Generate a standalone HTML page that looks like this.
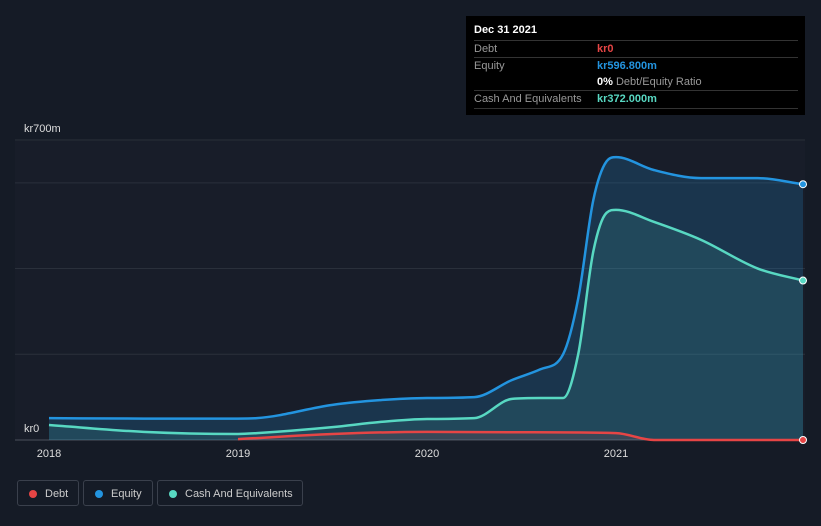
<!DOCTYPE html>
<html><head><meta charset="utf-8"><style>
body{margin:0;width:821px;height:526px;background:#151b26;font-family:"Liberation Sans",sans-serif;overflow:hidden;position:relative}
.tt{position:absolute;left:466px;top:16px;width:339px;height:99px;background:#000;color:#fff;font-size:11px}
.row{position:absolute;left:8px;width:324px;border-top:1px solid #333;height:17px;line-height:17px}
.row span{position:absolute;left:123px;font-weight:bold}
.lab{color:#999}
.leg{position:absolute;top:480px;height:26px;border:1px solid #3a404c;border-radius:3px;color:#ccc;font-size:11px;line-height:26px;box-sizing:border-box;padding-left:27px}
.leg i{position:absolute;left:11px;top:9px;width:8px;height:8px;border-radius:50%}
</style></head><body>
<div class="tt">
<div style="position:absolute;left:8px;top:8px;font-weight:bold">Dec 31 2021</div>
<div class="row" style="top:24px"><b class="lab" style="font-weight:normal">Debt</b><span style="color:#e64545">kr0</span></div>
<div class="row" style="top:41px"><b class="lab" style="font-weight:normal">Equity</b><span style="color:#2394df">kr596.800m</span></div>
<div class="row" style="top:58px;border-top:none"><span>0% <b style="color:#999;font-weight:normal">Debt/Equity Ratio</b></span></div>
<div class="row" style="top:74px;border-bottom:1px solid #333"><b class="lab" style="font-weight:normal">Cash And Equivalents</b><span style="color:#58d8c2">kr372.000m</span></div>
</div>
<svg id="c" width="821" height="526" style="position:absolute;left:0;top:0"></svg>
<div class="leg" style="left:17px;width:62px"><i style="background:#e64545"></i>Debt</div>
<div class="leg" style="left:83px;width:70px"><i style="background:#2394df"></i>Equity</div>
<div class="leg" style="left:157px;width:146px"><i style="background:#58d8c2"></i>Cash And Equivalents</div>
<script>
const years=[2018,2018.5,2019,2019.1,2019.5,2019.75,2020,2020.25,2020.45,2020.6,2020.72,2020.8,2020.88,2020.95,2021,2021.2,2021.45,2021.75,2022];
const equity=[51,50,50,51,82,93,98,100,140,165,200,330,560,650,660,630,611,611,596.8];
const cash=[35,19,14,16,30,42,49,51,96,98,98,200,440,530,537,509,467,400,372];
const debtYears=[2019,2019.5,2020,2020.5,2021,2021.2,2021.5,2022];
const debt=[2,14,19,18,16,0,0,0];
const yTicks=[0,700];
const xTicks=[2018,2019,2020,2021];
const NS="http://www.w3.org/2000/svg",svg=document.getElementById('c');
const x=t=>49+(t-2018)*189, X=t=>Math.min(x(t),803);
const y=v=>440-v*0.4286;
function el(tag,a,parent){const e=document.createElementNS(NS,tag);for(const k in a)e.setAttribute(k,a[k]);(parent||svg).appendChild(e);return e;}
const bg=el('rect',{x:15,y:141,width:790,height:299,fill:'#181d29'});


[0,200,400,600,700].forEach(v=>{const g=el('line',{x1:15,x2:805,y1:y(v),y2:y(v),stroke:v===0?'#4a505c':'#2a303b','stroke-width':1});

});
function path(xs,vs){const p=xs.map((t,i)=>[X(t),y(vs[i])]);const n=p.length;
const s=[];for(let i=0;i<n-1;i++)s.push((p[i+1][1]-p[i][1])/(p[i+1][0]-p[i][0]));
const m=[s[0]];for(let i=1;i<n-1;i++){m.push(s[i-1]*s[i]<=0?0:(s[i-1]+s[i])/2);}m.push(s[n-2]);
for(let i=0;i<n-1;i++){if(s[i]===0){m[i]=0;m[i+1]=0;continue;}const a=m[i]/s[i],b=m[i+1]/s[i],h=a*a+b*b;if(h>9){const t=3/Math.sqrt(h);m[i]=t*a*s[i];m[i+1]=t*b*s[i];}}
let d='M'+p[0];for(let i=0;i<n-1;i++){const dx=(p[i+1][0]-p[i][0])/3;d+='C'+[p[i][0]+dx,p[i][1]+m[i]*dx]+' '+[p[i+1][0]-dx,p[i+1][1]-m[i+1]*dx]+' '+p[i+1];}
return {d,p};}
function series(xs,vs,col,fill,name){const {d,p}=path(xs,vs);
const a=el('path',{d:d+'L'+p[p.length-1][0]+',440L'+p[0][0]+',440Z',fill:fill});


const l=el('path',{d,fill:'none',stroke:col,'stroke-width':2.5});


const c=el('circle',{cx:p[p.length-1][0],cy:p[p.length-1][1],r:3.5,fill:col,stroke:'#fff','stroke-width':1});

}
series(years,equity,'#2394df','rgba(35,148,223,0.2)','equity');
series(years,cash,'#58d8c2','rgba(88,216,194,0.12)','cash');
series(debtYears,debt,'#e64545','rgba(230,69,69,0.12)','debt');
yTicks.forEach(v=>{const t=el('text',{x:24,y:v===0?432:132,fill:'#ddd','font-size':11});t.textContent=v===0?'kr0':'kr'+v+'m';

});
xTicks.forEach(v=>{const t=el('text',{x:x(v),y:457,fill:'#ddd','font-size':11,'text-anchor':'middle'});t.textContent=v;

});
</script>
</body></html>
